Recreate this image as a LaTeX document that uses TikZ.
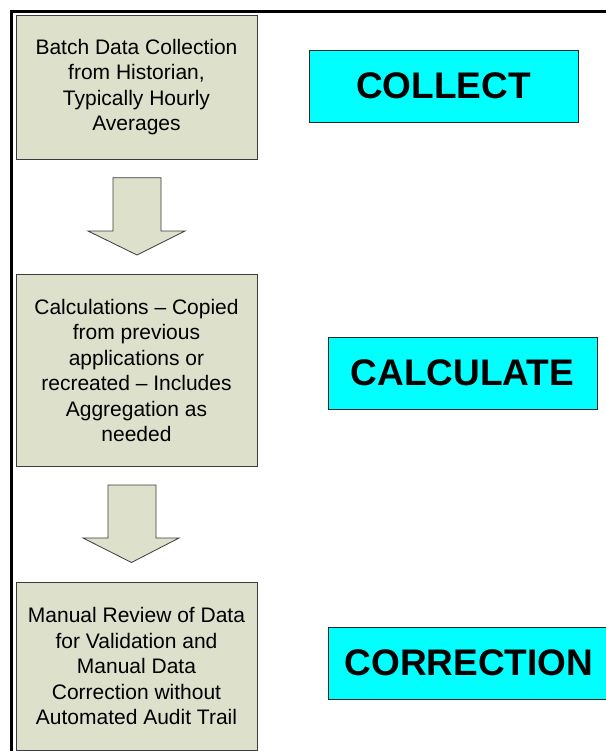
\documentclass[tikz,border=0pt]{standalone}
\usepackage{fontspec}
\setmainfont{Liberation Sans}
\definecolor{boxfill}{RGB}{221,224,203}
\definecolor{boxline}{RGB}{60,60,60}
\definecolor{labfill}{RGB}{0,255,255}
\begin{document}
\begin{tikzpicture}[x=1pt,y=-1pt,
  stepbox/.style={draw=boxline,line width=0.9pt,fill=boxfill,minimum width=241pt,
    inner sep=0pt,align=center,font=\fontsize{21}{25.5}\selectfont},
  labelbox/.style={draw=black!85,line width=0.9pt,fill=labfill,minimum height=72pt,
    inner sep=0pt,font=\fontsize{37}{40}\selectfont\bfseries},
  blockarrow/.style={draw=boxline,line width=0.8pt,fill=boxfill}]
\useasboundingbox (0,0) rectangle (605,751);
\fill[white] (0,0) rectangle (605,751);
% outer frame (partly cropped)
\draw[line width=2.8pt] (11.5,752) -- (11.5,11.2) -- (606,11.2);
% step boxes
\node[stepbox,minimum height=144pt] (b1) at (136.5,87) {Batch Data Collection\\from Historian,\\Typically Hourly\\Averages};
\node[stepbox,minimum height=192pt] (b2) at (136.5,370.5) {Calculations – Copied\\from previous\\applications or\\recreated – Includes\\Aggregation as\\needed};
\node[stepbox,minimum height=168pt] (b3) at (136.5,666) {Manual Review of Data\\for Validation and\\Manual Data\\Correction without\\Automated Audit Trail};
% block arrows
\draw[blockarrow] (113,177.7) -- (161,177.7) -- (161,231) -- (185,231) -- (137,255) -- (88,231) -- (113,231) -- cycle;
\draw[blockarrow] (108,485) -- (156,485) -- (156,538) -- (179,538) -- (131.5,562.5) -- (83,538) -- (108,538) -- cycle;
% stage labels
\node[labelbox,minimum width=269pt] (l1) at (443.5,86) {COLLECT};
\node[labelbox,minimum width=269pt] (l2) at (462.5,373) {CALCULATE};
\node[labelbox,minimum width=282pt] (l3) at (469,663) {CORRECTION};
\end{tikzpicture}
\end{document}
